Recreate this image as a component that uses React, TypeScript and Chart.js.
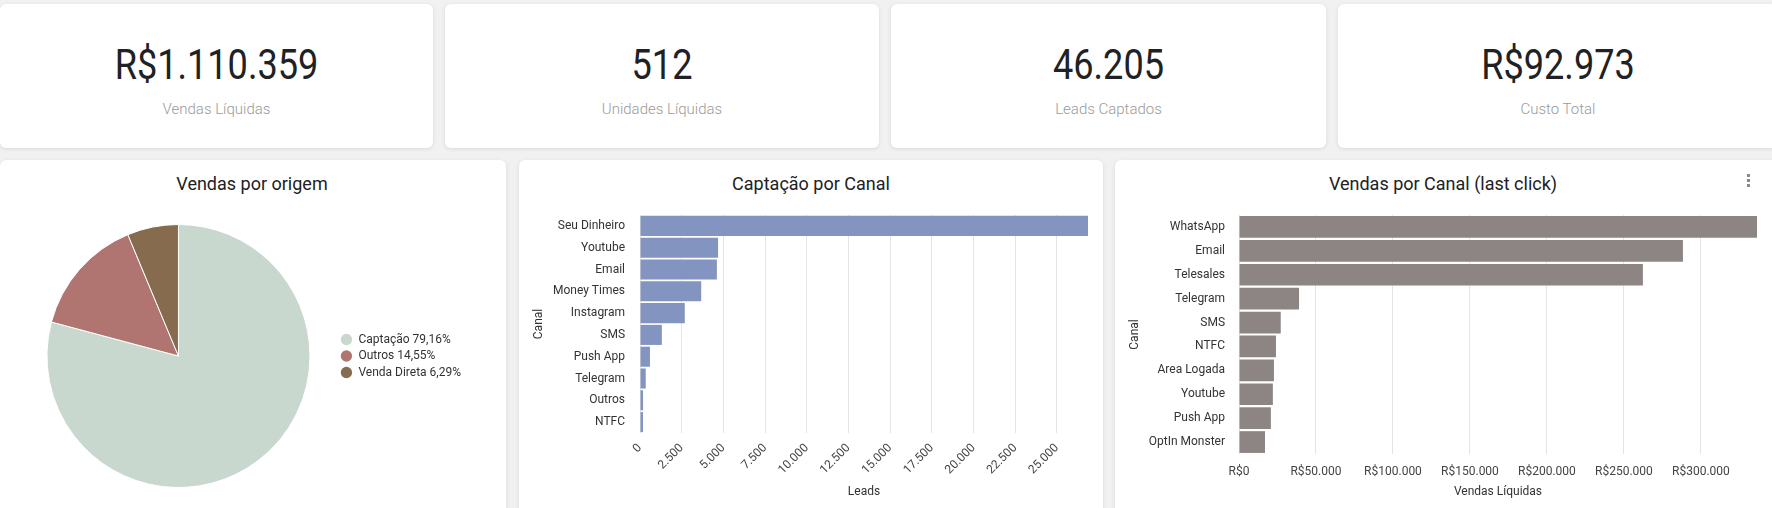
import React, { useEffect, useRef } from "react";
import { Chart, registerables } from "chart.js";

Chart.register(...registerables);

// ---------- data ----------
const kpiValues = ["R$1.110.359", "512", "46.205", "R$92.973"];
const kpiLabels = ["Vendas Líquidas", "Unidades Líquidas", "Leads Captados", "Custo Total"];

const origemTitle = "Vendas por origem";
const origemLabels = ["Captação", "Outros", "Venda Direta"];
const origemValues = [79.16, 14.55, 6.29];
const origemColors = ["#c8d8cf", "#b07571", "#866b4f"];

const leadsTitle = "Captação por Canal";
const leadsCanais = ["Seu Dinheiro", "Youtube", "Email", "Money Times", "Instagram", "SMS", "Push App", "Telegram", "Outros", "NTFC"];
const leadsValues = [26860, 4680, 4610, 3670, 2685, 1310, 597, 344, 184, 180];
const leadsTickStep = 2500;
const leadsAxisTitle = "Leads";

const vendasTitle = "Vendas por Canal (last click)";
const vendasCanais = ["WhatsApp", "Email", "Telesales", "Telegram", "SMS", "NTFC", "Area Logada", "Youtube", "Push App", "OptIn Monster"];
const vendasValues = [336400, 288300, 262300, 39000, 27100, 24000, 22700, 22000, 20700, 16900];
const vendasTickStep = 50000;
const vendasAxisTitle = "Vendas Líquidas";

const canalAxisTitle = "Canal";

// ---------- helpers ----------
const FONT = "Roboto, 'Noto Sans', sans-serif";
const fmtBR = (n: number) => Math.round(n).toString().replace(/\B(?=(\d{3})+(?!\d))/g, ".");
const fmtBRL = (n: number) => "R$" + fmtBR(n);

function ChartCanvas({ config, left, top, width, height }: any) {
  const ref = useRef<HTMLCanvasElement>(null);
  useEffect(() => {
    const chart = new Chart(ref.current as HTMLCanvasElement, config);
    return () => chart.destroy();
  }, []);
  return (
    <canvas
      ref={ref}
      width={width}
      height={height}
      style={{ position: "absolute", left, top, width, height }}
    />
  );
}

function barConfig(labels: string[], values: number[], color: string, step: number, fmt: (n: number) => string, o: any) {
  const max = Math.max(...values);
  const tickFont = { family: FONT, size: 12 };
  return {
    type: "bar",
    data: {
      labels,
      datasets: [{ data: values, backgroundColor: color, barPercentage: o.barPct, categoryPercentage: 1 }],
    },
    options: {
      indexAxis: "y",
      responsive: false,
      maintainAspectRatio: false,
      animation: false,
      events: [],
      layout: { padding: { top: 15, right: 15, left: 0, bottom: 0 } },
      plugins: { legend: { display: false }, tooltip: { enabled: false } },
      scales: {
        x: {
          min: 0,
          max,
          afterBuildTicks: (s: any) => {
            const t: any[] = [];
            for (let v = 0; v <= max; v += step) t.push({ value: v });
            s.ticks = t;
          },
          afterFit: (s: any) => {
            s.height = o.xHeight;
            s.paddingLeft = 0;
            s.paddingRight = 0;
          },
          grid: { color: "#e4e4e4", drawTicks: false },
          border: { display: false },
          ticks: {
            autoSkip: false,
            minRotation: o.rot,
            maxRotation: o.rot,
            padding: o.xPad,
            color: "#444",
            font: tickFont,
            callback: (v: any) => fmt(Number(v)),
          },
          title: { display: true, text: o.xTitle, color: "#333", font: tickFont, padding: { top: 0, bottom: 1 } },
        },
        y: {
          afterFit: (s: any) => {
            s.width = o.yWidth;
            s.paddingTop = 0;
            s.paddingBottom = 0;
          },
          grid: { display: false, drawTicks: false },
          border: { display: false },
          ticks: { padding: o.yPad, color: "#333", font: tickFont, autoSkip: false },
          title: { display: true, text: canalAxisTitle, color: "#333", font: tickFont, padding: { top: o.yTitlePad, bottom: 0 } },
        },
      },
    },
  };
}

const origemTotal = origemValues.reduce((a, b) => a + b, 0);
const pct = (v: number) => ((v / origemTotal) * 100).toFixed(2).replace(".", ",") + "%";

const pieConfig = {
  type: "pie",
  data: {
    labels: origemLabels,
    datasets: [{ data: origemValues, backgroundColor: origemColors, borderColor: "#ffffff", borderWidth: 1 }],
  },
  options: {
    responsive: false,
    maintainAspectRatio: false,
    animation: false,
    events: [],
    layout: { padding: 0 },
    plugins: {
      tooltip: { enabled: false },
      legend: {
        position: "right",
        labels: {
          usePointStyle: true,
          pointStyle: "circle",
          boxWidth: 12,
          boxHeight: 8,
          padding: 4.5,
          color: "#333",
          font: { family: FONT, size: 12 },
          generateLabels: () =>
            origemLabels.map((l, i) => ({
              text: `${l} ${pct(origemValues[i])}`,
              fillStyle: origemColors[i],
              strokeStyle: origemColors[i],
              lineWidth: 0,
              pointStyle: "circle",
              hidden: false,
              index: i,
              fontColor: "#333",
            })),
        },
      },
    },
  },
};

const card: React.CSSProperties = {
  position: "absolute",
  background: "#ffffff",
  borderRadius: 6,
  boxShadow: "0 1px 4px rgba(0,0,0,0.10)",
};

const kpiLefts = [0, 445, 891, 1338];
const kpiWidths = [433, 434, 435, 440];

function Title({ text, cx, top }: any) {
  return (
    <div
      style={{
        position: "absolute",
        left: cx - 300,
        width: 600,
        top,
        textAlign: "center",
        fontFamily: FONT,
        fontSize: 18,
        lineHeight: "18px",
        color: "#202124",
        whiteSpace: "nowrap",
      }}
    >
      {text}
    </div>
  );
}

export default function App() {
  return (
    <div
      style={{
        position: "absolute",
        left: 0,
        top: 0,
        width: 1772,
        height: 508,
        overflow: "hidden",
        background: "#f1f1f1",
      }}
    >
      {kpiValues.map((v, i) => (
        <div key={i} style={{ ...card, left: kpiLefts[i], top: 4, width: kpiWidths[i], height: 144 }}>
          <div
            style={{
              position: "absolute",
              left: 0,
              width: "100%",
              top: 39,
              textAlign: "center",
              fontFamily: FONT,
              fontSize: 43,
              lineHeight: "43px",
              color: "#202124",
              transform: "scaleX(0.84)",
              transformOrigin: "center",
              whiteSpace: "nowrap",
            }}
          >
            {v}
          </div>
          <div
            style={{
              position: "absolute",
              left: 0,
              width: "100%",
              top: 98,
              textAlign: "center",
              fontFamily: FONT,
              fontWeight: 300,
              fontSize: 15,
              lineHeight: "15px",
              color: "#9a9a9a",
              whiteSpace: "nowrap",
            }}
          >
            {kpiLabels[i]}
          </div>
        </div>
      ))}

      <div style={{ ...card, left: 0, top: 160, width: 506, height: 380 }} />
      <div style={{ ...card, left: 519, top: 160, width: 584, height: 380 }} />
      <div style={{ ...card, left: 1115, top: 160, width: 670, height: 380 }} />

      <Title text={origemTitle} cx={252} top={175} />
      <Title text={leadsTitle} cx={811} top={175} />
      <Title text={vendasTitle} cx={1443} top={175} />

      {[0, 1, 2].map((k) => (
        <div
          key={k}
          style={{
            position: "absolute",
            left: 1747,
            top: 174 + k * 5,
            width: 3,
            height: 3,
            background: "#8a8a8a",
          }}
        />
      ))}

      <ChartCanvas config={pieConfig} left={21} top={224} width={450} height={264} />
      <ChartCanvas
        config={barConfig(leadsCanais, leadsValues, "#8394c0", leadsTickStep, fmtBR, {
          barPct: 0.92,
          xHeight: 67,
          rot: 45,
          xPad: 8,
          xTitle: leadsAxisTitle,
          yWidth: 120,
          yPad: 15,
          yTitlePad: 12,
        })}
        left={520}
        top={200}
        width={583}
        height={300}
      />
      <ChartCanvas
        config={barConfig(vendasCanais, vendasValues, "#8c8583", vendasTickStep, fmtBRL, {
          barPct: 0.91,
          xHeight: 46,
          rot: 0,
          xPad: 11,
          xTitle: vendasAxisTitle,
          yWidth: 123,
          yPad: 14,
          yTitlePad: 12,
        })}
        left={1116}
        top={200}
        width={656}
        height={300}
      />
    </div>
  );
}
